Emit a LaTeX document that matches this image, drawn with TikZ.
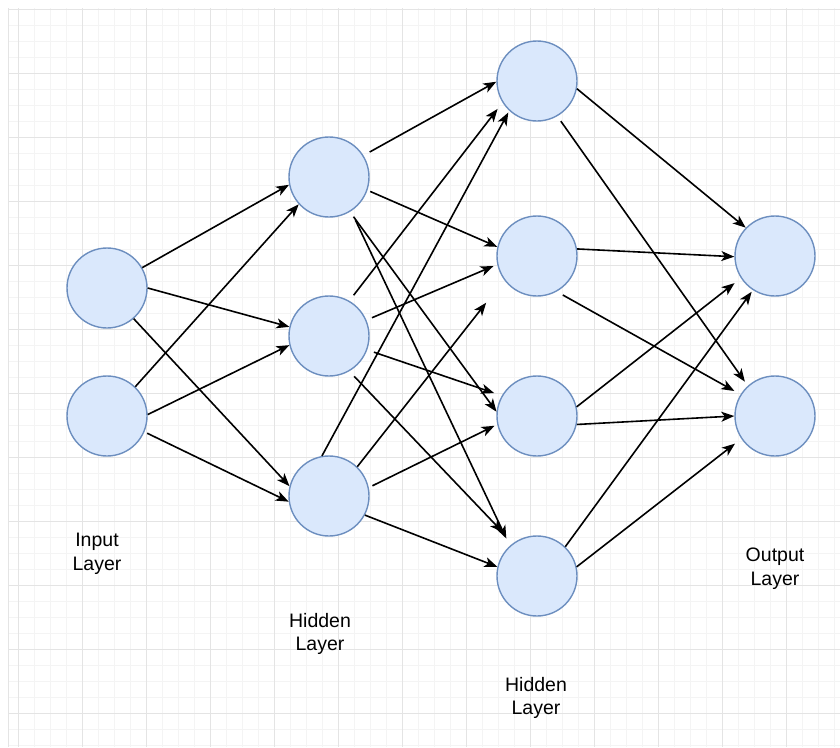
\documentclass[tikz,border=0pt]{standalone}
\usepackage{fontspec}
\setmainfont{Liberation Sans}
\usepackage{xcolor}
\usepackage{tikz}
\usetikzlibrary{arrows.meta}

\definecolor{neuronfill}{HTML}{DAE8FC}
\definecolor{neuronline}{HTML}{6C8EBF}
\definecolor{gridminor}{HTML}{F4F4F4}
\definecolor{gridmajor}{HTML}{E4E4E4}

\begin{document}
\begin{tikzpicture}[x=1pt,y=-1pt,
  neuron/.style={circle,draw=neuronline,fill=neuronfill,line width=1.4pt,minimum size=80pt,inner sep=0pt},
  link/.style={line width=1.6pt,-{Stealth[length=13pt,width=10pt,inset=3.5pt]}},
  layer/.style={align=center,inner sep=0pt,anchor=north,font=\fontsize{19.5}{23.4}\selectfont}]
\useasboundingbox (0,0) rectangle (840,747);
\fill[white] (0,0) rectangle (840,747);

% background grid
\foreach \x in {18,34,...,834} \draw[gridminor,line width=1pt] (\x,8) -- (\x,747);
\foreach \y in {9,25,...,745} \draw[gridminor,line width=1pt] (8,\y) -- (840,\y);
\foreach \x in {18,82,...,786} \draw[gridmajor,line width=1pt] (\x,8) -- (\x,747);
\foreach \y in {9,73,...,713} \draw[gridmajor,line width=1pt] (8,\y) -- (840,\y);
\draw[gridmajor,line width=1pt] (8,8) -- (8,747);

% neurons
\node[neuron] (I1) at (107,288) {};
\node[neuron] (I2) at (107,416) {};
\node[neuron] (H1) at (329,177) {};
\node[neuron] (H2) at (329,336) {};
\node[neuron] (H3) at (329,496) {};
\node[neuron] (C1) at (537,81) {};
\node[neuron] (C2) at (537,256) {};
\node[neuron] (C3) at (537,416) {};
\node[neuron] (C4) at (537,576) {};
\node[neuron] (O1) at (775,256) {};
\node[neuron] (O2) at (775,416) {};

% weights: from/anchor/to/anchor/gap at start/gap at end
\foreach \s/\a/\t/\b/\p/\q in {
  I1/30/H1/191/0/0, I1/0/H2/167/0/0, I1/311/H3/166/0/0,
  I2/46/H1/222/0/0, I2/2/H2/193/0/0, I2/337/H3/188/3/0,
  H1/32/C1/181/7/0, H1/341/C2/167/3/0, H1/301/C3/174/6/0, H1/303/C4/132/10/8,
  H2/60/C1/212/7/8, H2/23/C2/192/6/4, H2/340/C3/150/7/8, H2/300/C4/126/7/15,
  H3/100/C1/227/0/2, H3/46/C2/216/0/29, H3/12/C3/192/4/3, H3/332/C4/167/0/0,
  C1/349/O1/136/0/0, C1/300/O2/132/6/5,
  C2/10/O1/181/0/0, C2/299/O2/148/7/7,
  C3/13/O1/213/0/8, C3/348/O2/180/0/0,
  C4/46/O1/237/0/2, C4/13/O2/214/0/8}
  \draw[link,shorten <=\p pt,shorten >=\q pt] (\s.\a) -- (\t.\b);

% layer names
\node[layer] (inlabel) at (97,533) {Input\\Layer};
\node[layer] (hidlabel) at (320,613) {Hidden\\Layer};
\node[layer] (hid2label) at (536,677) {Hidden\\Layer};
\node[layer] (outlabel) at (775,548) {Output\\Layer};
\end{tikzpicture}
\end{document}
